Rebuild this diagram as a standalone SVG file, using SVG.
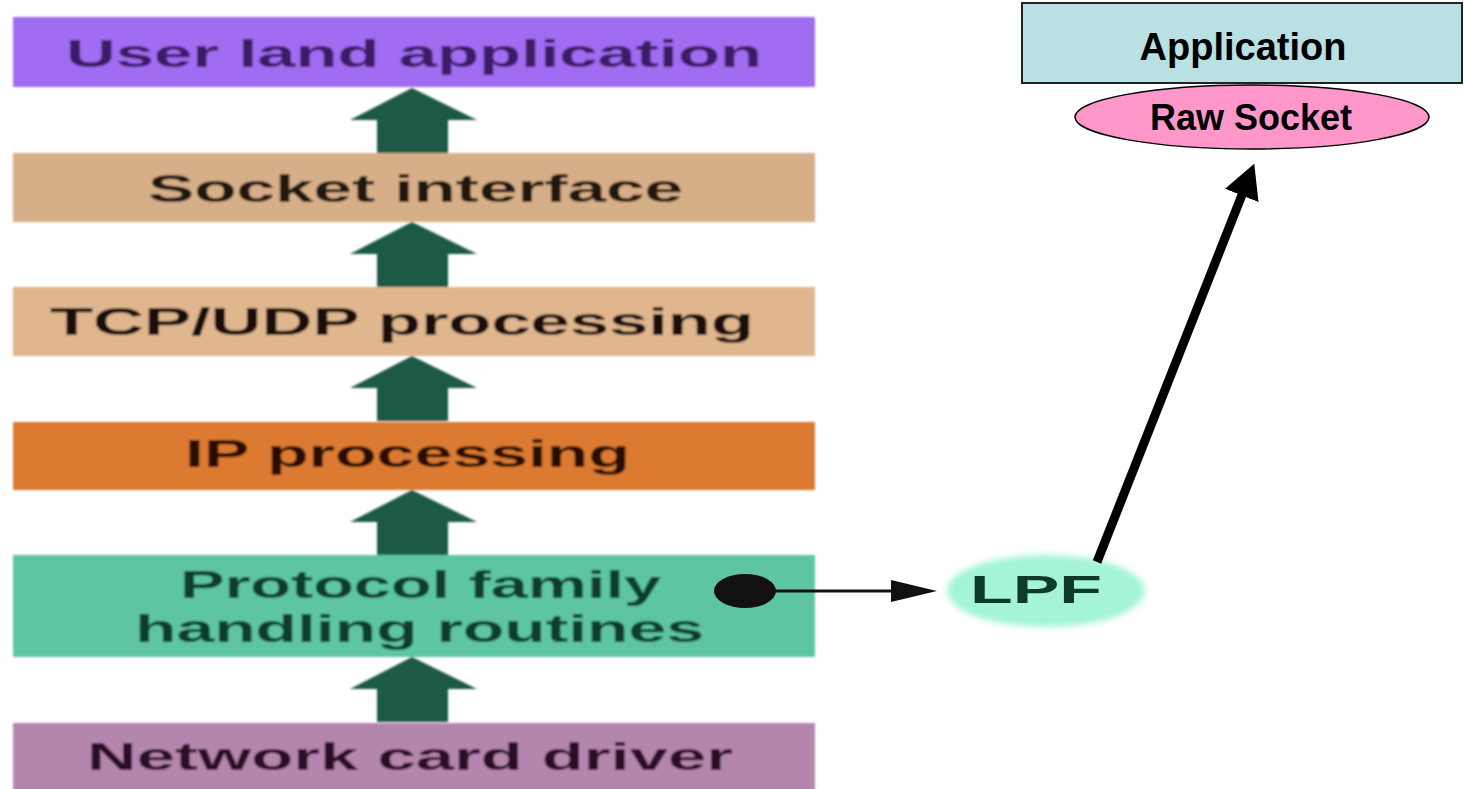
<svg xmlns="http://www.w3.org/2000/svg" width="1464" height="789" viewBox="0 0 1464 789">
  <defs>
    <style>
      .layer-label { font-family: "Liberation Sans", Arial, sans-serif; font-size: 38px; font-weight: bold; }
      .bold-label { font-family: "Liberation Sans", Arial, sans-serif; font-weight: bold; fill: #000; text-anchor: middle; }
      .up-arrow { fill: #1b5a47; }
    </style>
    <filter id="soft" x="-5%" y="-5%" width="110%" height="110%">
      <feGaussianBlur stdDeviation="0.9"/>
    </filter>
    <filter id="glow" x="-20%" y="-30%" width="140%" height="160%">
      <feGaussianBlur stdDeviation="3"/>
    </filter>
    <!-- block arrow pointing up, tip at origin -->
    <path id="upArrow" class="up-arrow" d="M0,0 L65,32 L36,32 L36,65 L-35,65 L-35,32 L-62,32 Z"/>
    <marker id="bigHead" markerUnits="userSpaceOnUse" markerWidth="36" markerHeight="36" refX="2" refY="18" orient="auto">
      <path d="M0,0 L34,18 L0,36 Z" fill="#000"/>
    </marker>
    <marker id="smallHead" markerUnits="userSpaceOnUse" markerWidth="48" markerHeight="24" refX="1" refY="11" orient="auto">
      <path d="M0,0 L46,11 L0,22 Z" fill="#111"/>
    </marker>
  </defs>

  <rect width="1464" height="789" fill="#fff"/>

  <!-- protocol stack -->
  <g filter="url(#soft)">
    <g id="user-land">
      <rect x="13" y="17" width="802" height="70" fill="#a06cf2"/>
      <text class="layer-label" x="66" y="67" font-size="40" textLength="696" lengthAdjust="spacingAndGlyphs" fill="#3a1a66">User land application</text>
    </g>
    <g id="socket-interface">
      <rect x="13" y="153" width="802" height="69" fill="#d6af88"/>
      <text class="layer-label" x="148" y="202" font-size="36" textLength="535" lengthAdjust="spacingAndGlyphs" fill="#22140a">Socket interface</text>
    </g>
    <g id="tcp-udp">
      <rect x="13" y="287" width="802" height="69" fill="#dfb68e"/>
      <text class="layer-label" x="50" y="335" textLength="704" lengthAdjust="spacingAndGlyphs" fill="#1c1008">TCP/UDP processing</text>
    </g>
    <g id="ip-processing">
      <rect x="13" y="422" width="802" height="68" fill="#dc7a31"/>
      <text class="layer-label" x="185" y="467" textLength="445" lengthAdjust="spacingAndGlyphs" fill="#2a1004">IP processing</text>
    </g>
    <g id="protocol-family">
      <rect x="13" y="555" width="802" height="102" fill="#5dc6a0"/>
      <text class="layer-label" x="180" y="598" font-size="33" textLength="481" lengthAdjust="spacingAndGlyphs" fill="#0f3d2d">Protocol family</text>
      <text class="layer-label" x="135" y="642" font-size="33" textLength="569" lengthAdjust="spacingAndGlyphs" fill="#0f3d2d">handling routines</text>
    </g>
    <g id="network-card">
      <rect x="13" y="723" width="802" height="70" fill="#b586ad"/>
      <text class="layer-label" x="87" y="770" textLength="646" lengthAdjust="spacingAndGlyphs" fill="#2c0e26">Network card driver</text>
    </g>

    <!-- upward flow between layers -->
    <g id="stack-arrows">
      <use href="#upArrow" x="412" y="88"/>
      <use href="#upArrow" x="412" y="222"/>
      <use href="#upArrow" x="412" y="356"/>
      <use href="#upArrow" x="412" y="490"/>
      <use href="#upArrow" x="412" y="657"/>
    </g>
  </g>

  <!-- filter node -->
  <g id="lpf">
    <ellipse cx="1046" cy="591" rx="99" ry="36" fill="#a3f5d3" filter="url(#glow)"/>
    <text class="layer-label" x="970" y="603" font-size="40" textLength="132" lengthAdjust="spacingAndGlyphs" fill="#0e3a2a">LPF</text>
  </g>

  <!-- user-space side -->
  <g id="application">
    <rect x="1022" y="3" width="440" height="80" fill="#b9e0e2" stroke="#222" stroke-width="2"/>
    <text class="bold-label" x="1243" y="60" font-size="38">Application</text>
  </g>
  <g id="raw-socket">
    <ellipse cx="1252" cy="117" rx="177" ry="32" fill="#ff97cb" stroke="#000" stroke-width="1.5"/>
    <text class="bold-label" x="1251" y="130" font-size="36">Raw Socket</text>
  </g>

  <!-- connectors -->
  <g id="connectors">
    <ellipse cx="745" cy="591" rx="31" ry="17" fill="#111"/>
    <line x1="760" y1="591" x2="892" y2="591" stroke="#111" stroke-width="3" marker-end="url(#smallHead)"/>
    <line x1="1097" y1="562" x2="1242.5" y2="193.6" stroke="#000" stroke-width="9" marker-end="url(#bigHead)"/>
  </g>
</svg>
